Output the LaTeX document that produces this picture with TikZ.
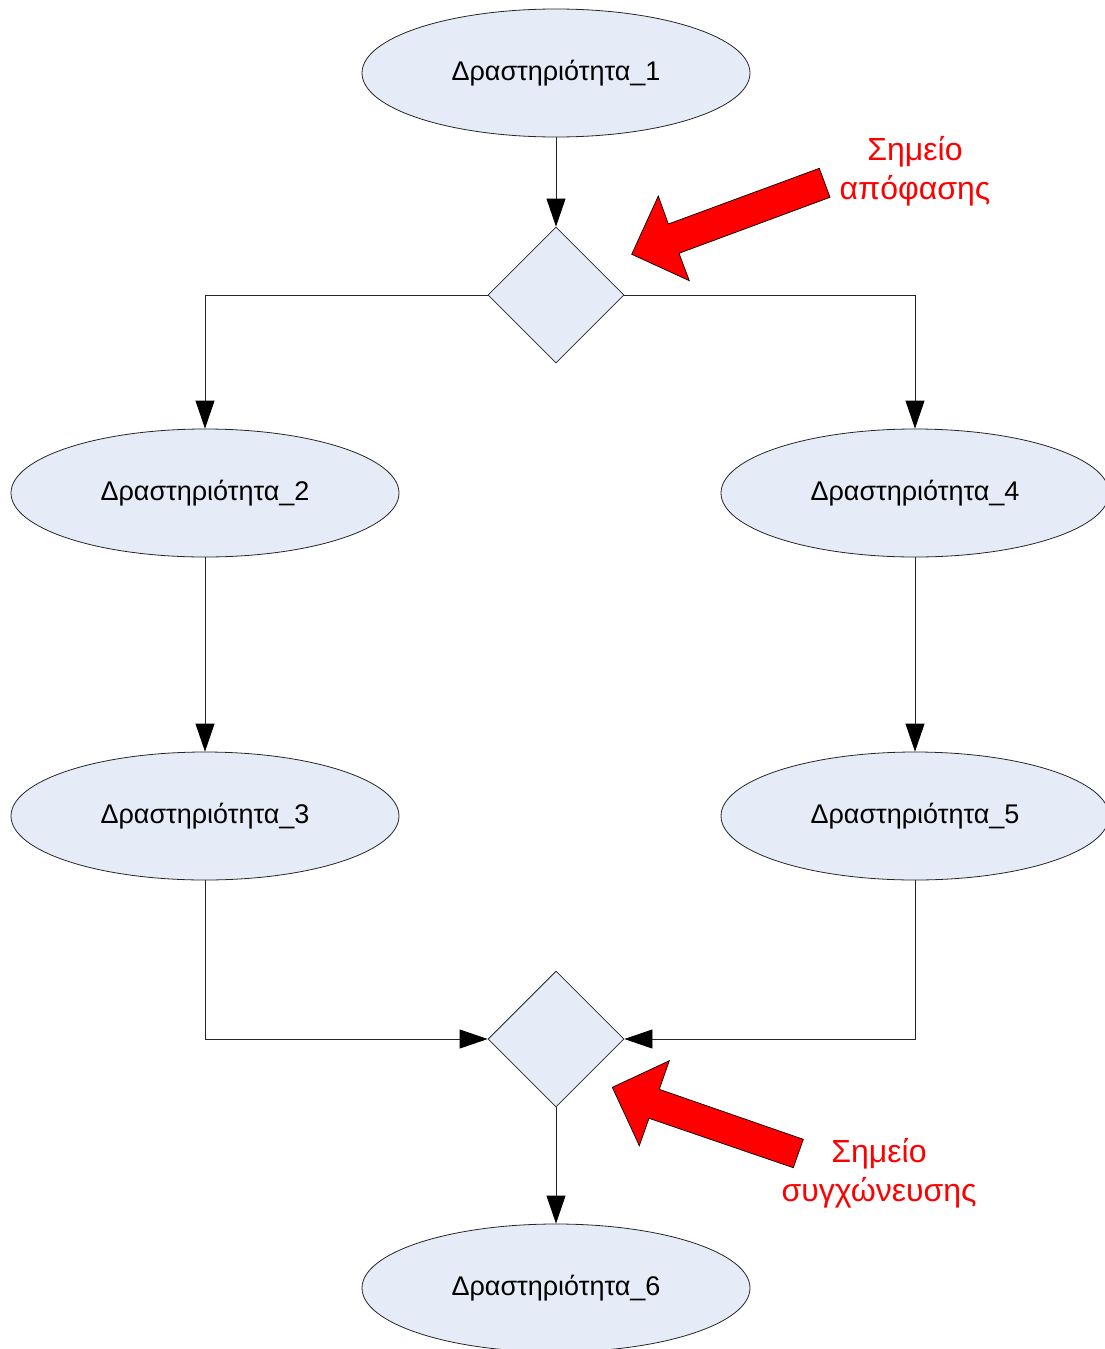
\documentclass[tikz,border=0pt]{standalone}
\usepackage{fontspec}
\setmainfont{Liberation Sans}
\usetikzlibrary{shapes.geometric,arrows.meta}
\definecolor{nodefill}{HTML}{E6ECF7}
\definecolor{hred}{HTML}{FF0000}
\tikzset{
  act/.style={ellipse, draw=black!85, line width=0.8pt, fill=nodefill, minimum width=388pt, minimum height=128pt, inner sep=0pt, font=\fontsize{27}{32}\selectfont},
  decis/.style={diamond, draw=black!85, line width=0.8pt, fill=nodefill, minimum width=136pt, minimum height=136pt, inner sep=0pt},
  conn/.style={draw=black!85, line width=0.8pt, -{Triangle[length=28pt,width=19pt,color=black]}},
  redlabel/.style={text=hred, align=center, font=\fontsize{32}{39}\selectfont},
  blockarrow/.style={fill=hred, draw=black, line width=0.7pt, line join=miter}
}
\begin{document}
\begin{tikzpicture}[x=1pt,y=-1pt]
\useasboundingbox (0,0) rectangle (1105,1349);
\node[act] (e1) at (556,73) {Δραστηριότητα\_1};
\node[decis] (d1) at (556,295) {};
\node[act] (e2) at (205,493) {Δραστηριότητα\_2};
\node[act] (e4) at (915,493) {Δραστηριότητα\_4};
\node[act] (e3) at (205,816) {Δραστηριότητα\_3};
\node[act] (e5) at (915,816) {Δραστηριότητα\_5};
\node[decis] (d2) at (556,1039) {};
\node[act] (e6) at (556,1288) {Δραστηριότητα\_6};

\draw[conn] (e1.south) -- (d1.north);
\draw[conn] (d1.west) -| (e2.north);
\draw[conn] (d1.east) -| (e4.north);
\draw[conn] (e2.south) -- (e3.north);
\draw[conn] (e4.south) -- (e5.north);
\draw[conn] (e3.south) |- (d2.west);
\draw[conn] (e5.south) |- (d2.east);
\draw[conn] (d2.south) -- (e6.north);

\node[redlabel] (l1) at (915,171) {Σημείο\\απόφασης};
\node[redlabel] (l2) at (879,1173) {Σημείο\\συγχώνευσης};

\draw[blockarrow] (819.3,168.3) -- (830,197.3) -- (679,253.3) -- (689.3,280.7) -- (631.7,254.3) -- (658.3,196) -- (668.3,224) -- cycle;
\draw[blockarrow] (803.3,1139.3) -- (793.3,1167.7) -- (649,1118.3) -- (639.3,1145.7) -- (612.3,1087.3) -- (669.3,1060.7) -- (659.3,1089.3) -- cycle;
\end{tikzpicture}
\end{document}
